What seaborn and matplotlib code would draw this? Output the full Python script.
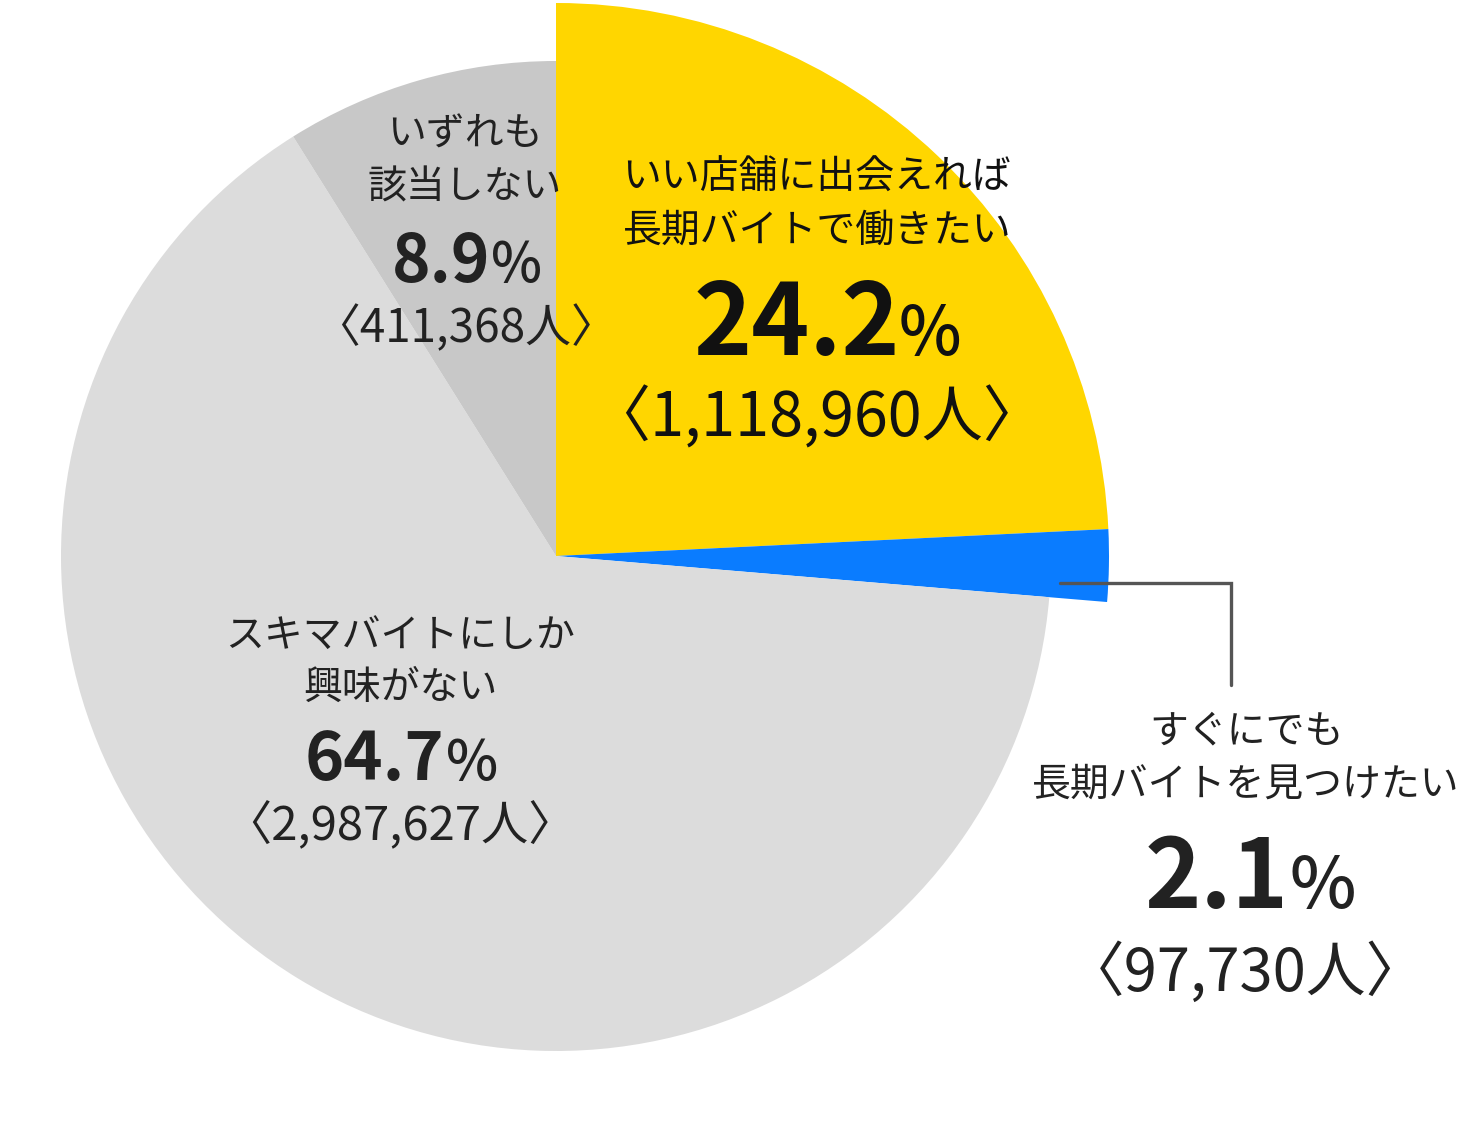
import numpy as np
import matplotlib
matplotlib.use("Agg")
import matplotlib.pyplot as plt
import seaborn as sns

# data
categories = ["いい店舗に出会えれば\n長期バイトで働きたい",
              "すぐにでも\n長期バイトを見つけたい",
              "スキマバイトにしか\n興味がない",
              "いずれも\n該当しない"]
percents = [24.2, 2.1, 64.7, 8.9]
counts = [1118960, 97730, 2987627, 411368]
colors = ["#FFD600", "#0A7CFF", "#DCDCDC", "#C8C8C8"]

sns.set_theme(style="white")
plt.rcParams["font.family"] = ["Noto Sans CJK JP", "DejaVu Sans"]

W, H = 1474, 1122
fig = plt.figure(figsize=(W / 100, H / 100), dpi=100)
ax = fig.add_axes([0, 0, 1, 1])

cx, cy = 556, H - 556
wedges, _ = ax.pie(percents, colors=colors, startangle=90, counterclock=False,
                   radius=495, center=(cx, cy),
                   wedgeprops={"linewidth": 0, "antialiased": True})
# highlighted slices stick out
wedges[0].set_radius(553)
wedges[1].set_radius(553)

ax.set_xlim(0, W)
ax.set_ylim(0, H)
ax.set_aspect("equal")
ax.axis("off")

txt = "#222222"


def label(x, y_title, y_pct, y_cnt, title, pct, cnt, ps, pcs, cs, nx, px, col=txt):
    ax.text(x, H - y_title, title, ha="center", va="center", fontsize=28,
            color=col, linespacing=1.4)
    ax.text(nx, H - y_pct, f"{pct:.1f}", ha="right", va="baseline", fontsize=ps,
            fontweight="bold", color=col)
    ax.text(px, H - y_pct, "%", ha="left", va="baseline", fontsize=pcs,
            fontweight="medium", color=col)
    ax.text(x, H - y_cnt, f"〈{cnt:,}人〉", ha="center", va="center", fontsize=cs,
            color=col)


label(817, 204, 355, 419, categories[0], percents[0], counts[0], 71, 48, 44, 900, 899, col="#111111")
label(1246, 758, 908, 974, categories[1], percents[1], counts[1], 69, 51, 43, 1289, 1290)
label(400, 662, 780, 827, categories[2], percents[2], counts[2], 48, 40, 34, 444, 446)
label(465, 161, 282, 329, categories[3], percents[3], counts[3], 47, 39, 33, 490, 491)

# leader line for the small slice
ax.plot([1060, 1231, 1231], [H - 583, H - 583, H - 685], color="#555555",
        linewidth=2.4, solid_joinstyle="miter")

fig.savefig("out.png", dpi=100)
